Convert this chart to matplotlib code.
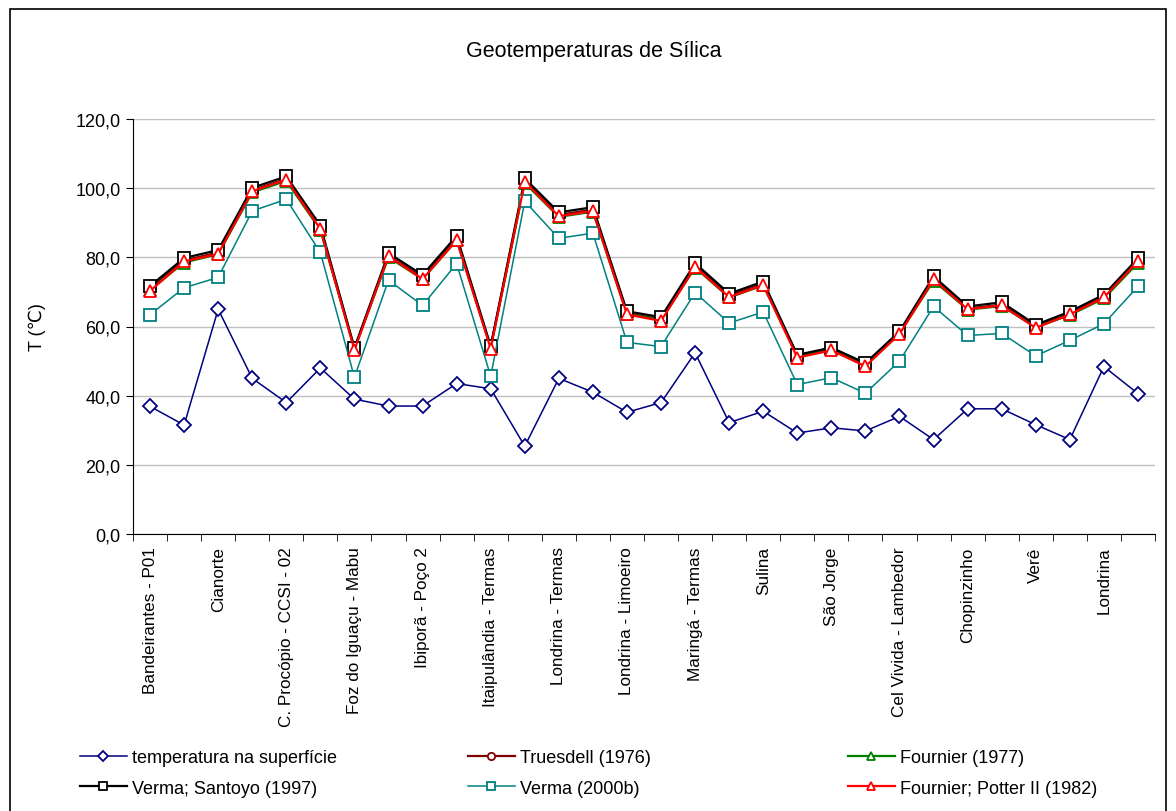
import matplotlib
matplotlib.use("Agg")
import matplotlib.pyplot as plt
from matplotlib.ticker import FuncFormatter, FixedLocator
from matplotlib.patches import Rectangle

plt.rcParams['font.family'] = ['Liberation Sans', 'DejaVu Sans']

# 30 poços; o Excel só mostra um rótulo sim, outro não
labels_shown = ["Bandeirantes - P01", "Cianorte", "C. Procópio - CCSI - 02",
                "Foz do Iguaçu - Mabu", "Ibiporã - Poço 2", "Itaipulândia - Termas",
                "Londrina - Termas", "Londrina - Limoeiro", "Maringá - Termas",
                "Sulina", "São Jorge", "Cel Vivida - Lambedor", "Chopinzinho",
                "Verê", "Londrina"]
categories = []
for name in labels_shown:
    categories += [name, ""]

superficie = [36.9, 31.5, 65.0, 45.0, 38.0, 48.0, 39.0, 37.0, 37.0, 43.5,
              42.0, 25.4, 45.0, 41.0, 35.2, 38.0, 52.4, 32.2, 35.5, 29.2,
              30.7, 29.8, 34.0, 27.3, 36.2, 36.2, 31.6, 27.3, 48.4, 40.6]
truesdell = [71.0, 79.1, 81.4, 99.4, 102.7, 88.5, 53.5, 80.5, 74.2, 85.5,
             54.0, 102.1, 92.3, 93.8, 63.8, 62.1, 77.6, 68.9, 72.4, 51.4,
             53.5, 49.0, 58.1, 73.8, 65.2, 66.3, 60.0, 63.7, 68.6, 79.0]
fournier77 = [70.6, 78.5, 80.9, 98.8, 102.1, 87.9, 53.6, 80.0, 73.7, 84.9,
              54.1, 101.5, 91.7, 93.2, 63.6, 61.9, 77.0, 68.4, 71.9, 51.6,
              53.8, 49.3, 58.0, 73.2, 64.9, 65.9, 59.8, 63.3, 68.1, 78.4]
verma_santoyo = [71.7, 79.8, 82.1, 100.1, 103.4, 89.2, 53.8, 81.2, 74.9, 86.2,
                 54.3, 102.8, 93.0, 94.5, 64.4, 62.7, 78.3, 69.5, 73.0, 51.8,
                 53.9, 49.4, 58.6, 74.5, 65.8, 67.0, 60.5, 64.3, 69.2, 79.7]
verma2000 = [63.4, 71.2, 74.2, 93.4, 96.8, 81.4, 45.3, 73.4, 66.1, 78.2,
             45.6, 96.2, 85.5, 87.0, 55.4, 54.2, 69.8, 61.0, 64.2, 43.2,
             45.2, 40.7, 50.0, 65.8, 57.4, 58.0, 51.5, 56.0, 60.8, 71.6]
potter = [70.3, 78.8, 81.0, 99.1, 102.5, 88.2, 53.2, 80.4, 73.7, 85.0,
          53.6, 101.8, 91.9, 93.4, 63.5, 61.6, 77.2, 68.5, 72.0, 51.0,
          53.1, 48.5, 57.8, 73.6, 65.0, 66.1, 59.6, 63.5, 68.4, 78.9]

x = list(range(len(categories)))

fig = plt.figure(figsize=(11.76, 8.12), dpi=100)
ax = fig.add_axes([133 / 1176, 1 - 535 / 812, 1022 / 1176, 415 / 812])

mk = dict(markerfacecolor='white', markeredgewidth=1.3)
l1, = ax.plot(x, superficie, color='#000080', lw=1.1, marker='D', ms=7, **mk,
              label='temperatura na superfície')
l2, = ax.plot(x, truesdell, color='#800000', lw=1.6, marker='o', ms=7, **mk,
              label='Truesdell (1976)')
l3, = ax.plot(x, fournier77, color='#008000', lw=1.6, marker='^', ms=8, **mk,
              label='Fournier (1977)')
l4, = ax.plot(x, verma_santoyo, color='black', lw=1.6, marker='s', ms=8, **mk,
              label='Verma; Santoyo (1997)')
l5, = ax.plot(x, verma2000, color='#008080', lw=1.1, marker='s', ms=8, **mk,
              label='Verma (2000b)')
l6, = ax.plot(x, potter, color='#FF0000', lw=1.6, marker='^', ms=8, **mk,
              label='Fournier; Potter II (1982)')

ax.set_xlim(-0.5, len(categories) - 0.5)
ax.set_ylim(0, 120)
ax.set_yticks(range(0, 121, 20))
ax.yaxis.set_major_formatter(FuncFormatter(lambda v, p: f"{v:.1f}".replace('.', ',')))
ax.grid(axis='y', color='#c0c0c0', lw=1)
ax.set_axisbelow(True)
for s in ['top', 'right']:
    ax.spines[s].set_visible(False)
ax.tick_params(axis='y', direction='out', length=5, labelsize=13, pad=4)

ax.xaxis.set_major_locator(FixedLocator(x[::2]))
ax.set_xticklabels(labels_shown, rotation=90, fontsize=12.3, va='top', ha='center')
ax.xaxis.set_minor_locator(FixedLocator([i - 0.5 for i in range(len(categories) + 1)]))
ax.tick_params(axis='x', which='major', length=0, pad=9)
ax.tick_params(axis='x', which='minor', length=5, direction='out')

ax.set_ylabel('T (℃)', fontsize=13)
ax.yaxis.set_label_coords(-87 / 1022, 0.5)
fig.text(594 / 1176, 1 - 52 / 812, 'Geotemperaturas de Sílica', fontsize=15.5,
         ha='center', va='center')

legend_cols = [([l1, l4], 80), ([l2, l5], 468), ([l3, l6], 848)]
for handles, xpos in legend_cols:
    fig.legend(handles=handles, loc='upper left',
               bbox_to_anchor=(xpos / 1176, 1 - 750 / 812), frameon=False,
               fontsize=13, handlelength=2.6, handletextpad=0.3, labelspacing=0.75,
               borderaxespad=0, borderpad=0, markerscale=0.75)

fig.patches.append(Rectangle((10 / 1176, -0.01), 1156 / 1176, 1 - 10 / 812 + 0.01,
                             transform=fig.transFigure, fill=False,
                             edgecolor='black', lw=1.2))

fig.savefig('out.png', dpi=100)
plt.close()
